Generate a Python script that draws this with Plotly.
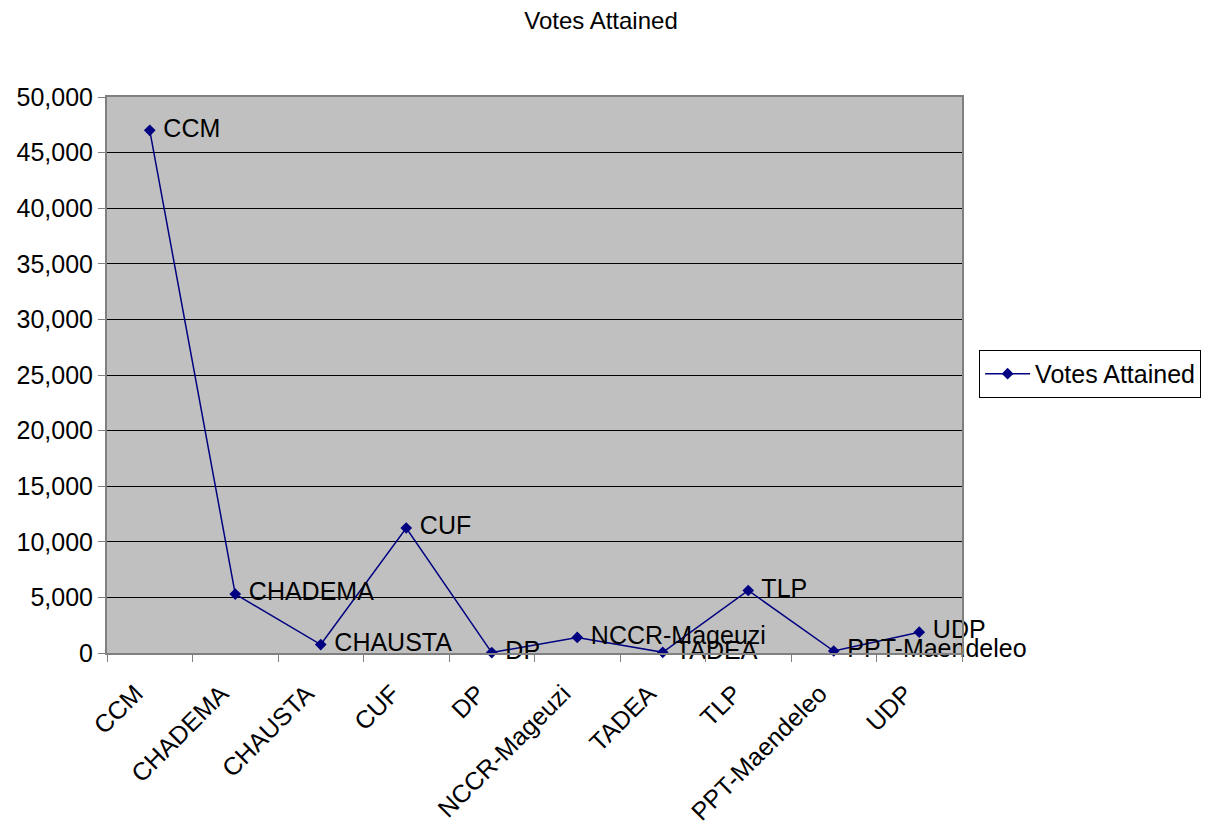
import plotly.graph_objects as go

parties = ["CCM", "CHADEMA", "CHAUSTA", "CUF", "DP", "NCCR-Mageuzi",
           "TADEA", "TLP", "PPT-Maendeleo", "UDP"]
votes = [47000, 5300, 760, 11240, 40, 1400, 60, 5620, 180, 1870]
y_ticks = [0, 5000, 10000, 15000, 20000, 25000, 30000, 35000, 40000, 45000, 50000]

FONT = "Liberation Sans, Arial, sans-serif"
FS = 25

fig = go.Figure()
fig.add_trace(go.Scatter(
    x=parties, y=votes, name="Votes Attained",
    mode="lines+markers+text",
    line=dict(color="#000080", width=1.5),
    marker=dict(symbol="diamond", size=9, color="#000080"),
    text=[" " + p for p in parties],
    textposition="middle right",
    textfont=dict(family=FONT, size=FS, color="#000000"),
    cliponaxis=False,
))

fig.update_layout(
    width=1209, height=832,
    margin=dict(l=99, r=255, t=89, b=187, autoexpand=False),
    paper_bgcolor="white",
    plot_bgcolor="#C0C0C0",
    font=dict(family=FONT, size=FS, color="#000000"),
    title=dict(text="Votes Attained", x=0.4905, xanchor="center", y=0.985, yanchor="middle",
               font=dict(family=FONT, size=24, color="#000000")),
    showlegend=True,
    legend=dict(x=1.02, xanchor="left", y=0.502, yanchor="middle",
                bordercolor="#000000", borderwidth=1, bgcolor="white",
                itemwidth=45,
                font=dict(family=FONT, size=FS)),
    xaxis=dict(
        type="category", tickangle=-45, tickson="boundaries",
        ticks="outside", ticklen=7, tickcolor="#808080",
        ticklabelstandoff=14, ticklabelshift=-14, automargin=False,
        showgrid=False, showline=True, linecolor="#808080", linewidth=2, mirror=True,
        tickfont=dict(family=FONT, size=FS),
        range=[-0.5, 9.5],
    ),
    yaxis=dict(
        range=[0, 50000], tickvals=y_ticks, tickformat=",d", automargin=False,
        ticks="outside", ticklen=7, tickcolor="#808080",
        showgrid=True, gridcolor="#000000", gridwidth=1,
        showline=True, linecolor="#808080", linewidth=2, mirror=True,
        zeroline=False,
        tickfont=dict(family=FONT, size=FS),
    ),
)

fig.write_html("out.html")
